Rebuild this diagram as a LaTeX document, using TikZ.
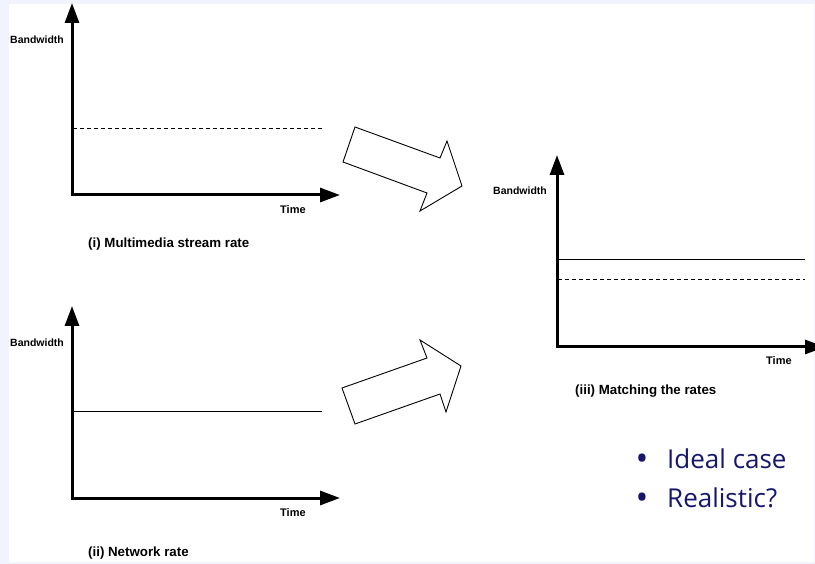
\documentclass[tikz,border=0pt]{standalone}
\usepackage{fontspec}
\setmainfont{Liberation Sans}
\newfontfamily\bulfont{Open Sans}
\usetikzlibrary{arrows.meta}
\definecolor{pagebg}{RGB}{241,243,254}
\definecolor{navy}{RGB}{22,22,110}
\begin{document}
\begin{tikzpicture}[x=1pt,y=-1pt,
  axis/.style={line width=3pt, line join=miter,
    {Triangle[length=20pt,width=14pt]}-{Triangle[length=20pt,width=14pt]}},
  rateline/.style={line width=1pt},
  ratedash/.style={line width=1pt, dash pattern=on 4pt off 3pt},
  blockarrow/.style={draw=black, line width=0.9pt, fill=white, line join=miter},
  ylab/.style={font=\bfseries\fontsize{10.5}{12}\selectfont, inner sep=0pt, anchor=base west},
  xlab/.style={font=\bfseries\fontsize{11}{13}\selectfont, inner sep=0pt, anchor=base west},
  caption/.style={font=\bfseries\fontsize{13.3}{15}\selectfont, inner sep=0pt, anchor=base west},
  bullettext/.style={font=\bulfont\fontsize{26}{30}\selectfont, text=navy, inner sep=0pt, anchor=base west},
  bulletdot/.style={font=\bulfont\fontsize{34}{38}\selectfont, text=navy, inner sep=0pt, anchor=base}]
\useasboundingbox (0,0) rectangle (815,564);
\fill[pagebg] (0,0) rectangle (815,564);
\fill[white] (9,4) rectangle (814,562);

% ---- chart (i)
\coordinate (ytop1) at (72,3);
\coordinate (o1) at (72,195);
\coordinate (xend1) at (340,195);
\draw[axis] (ytop1) -- (o1) -- (xend1);
\coordinate (d1a) at (73,129);
\coordinate (d1b) at (322,129);
\draw[ratedash] (d1a) -- (d1b);
\node[ylab] (bw1) at (10,43.3) {Bandwidth};
\node[xlab] (t1) at (280,214) {Time};
\node[caption] (c1) at (88,247.7) {(i) Multimedia stream rate};

% ---- chart (ii)
\coordinate (ytop2) at (72,306);
\coordinate (o2) at (72,498);
\coordinate (xend2) at (340,498);
\draw[axis] (ytop2) -- (o2) -- (xend2);
\coordinate (s2a) at (73,412);
\coordinate (s2b) at (322,412);
\draw[rateline] (s2a) -- (s2b);
\node[ylab] (bw2) at (10,346.3) {Bandwidth};
\node[xlab] (t2) at (280,516.7) {Time};
\node[caption] (c2) at (88,556.7) {(ii) Network rate};

% ---- chart (iii)
\coordinate (ytop3) at (557,155);
\coordinate (o3) at (557,347);
\coordinate (xend3) at (825,347);
\draw[axis] (ytop3) -- (o3) -- (xend3);
\coordinate (s3a) at (558,260);
\coordinate (s3b) at (805,260);
\draw[rateline] (s3a) -- (s3b);
\coordinate (d3a) at (558,280);
\coordinate (d3b) at (805,280);
\draw[ratedash] (d3a) -- (d3b);
\node[ylab] (bw3) at (493,194.5) {Bandwidth};
\node[xlab] (t3) at (766,365) {Time};
\node[caption] (c3) at (575,395) {(iii) Matching the rates};

% ---- block arrows
\draw[blockarrow] (355,127) -- (343,162) -- (427,193) -- (420,211) -- (462,186)
  -- (447,141) -- (440,158) -- cycle;
\draw[blockarrow] (342,388) -- (355,424) -- (440,394) -- (446,412) -- (461,366)
  -- (420,340) -- (427,358) -- cycle;

% ---- bullets
\node[bulletdot] (b1) at (642,470) {•};
\node[bullettext] (l1) at (667,468) {Ideal case};
\node[bulletdot] (b2) at (642,509) {•};
\node[bullettext] (l2) at (667,507) {Realistic?};
\end{tikzpicture}
\end{document}
